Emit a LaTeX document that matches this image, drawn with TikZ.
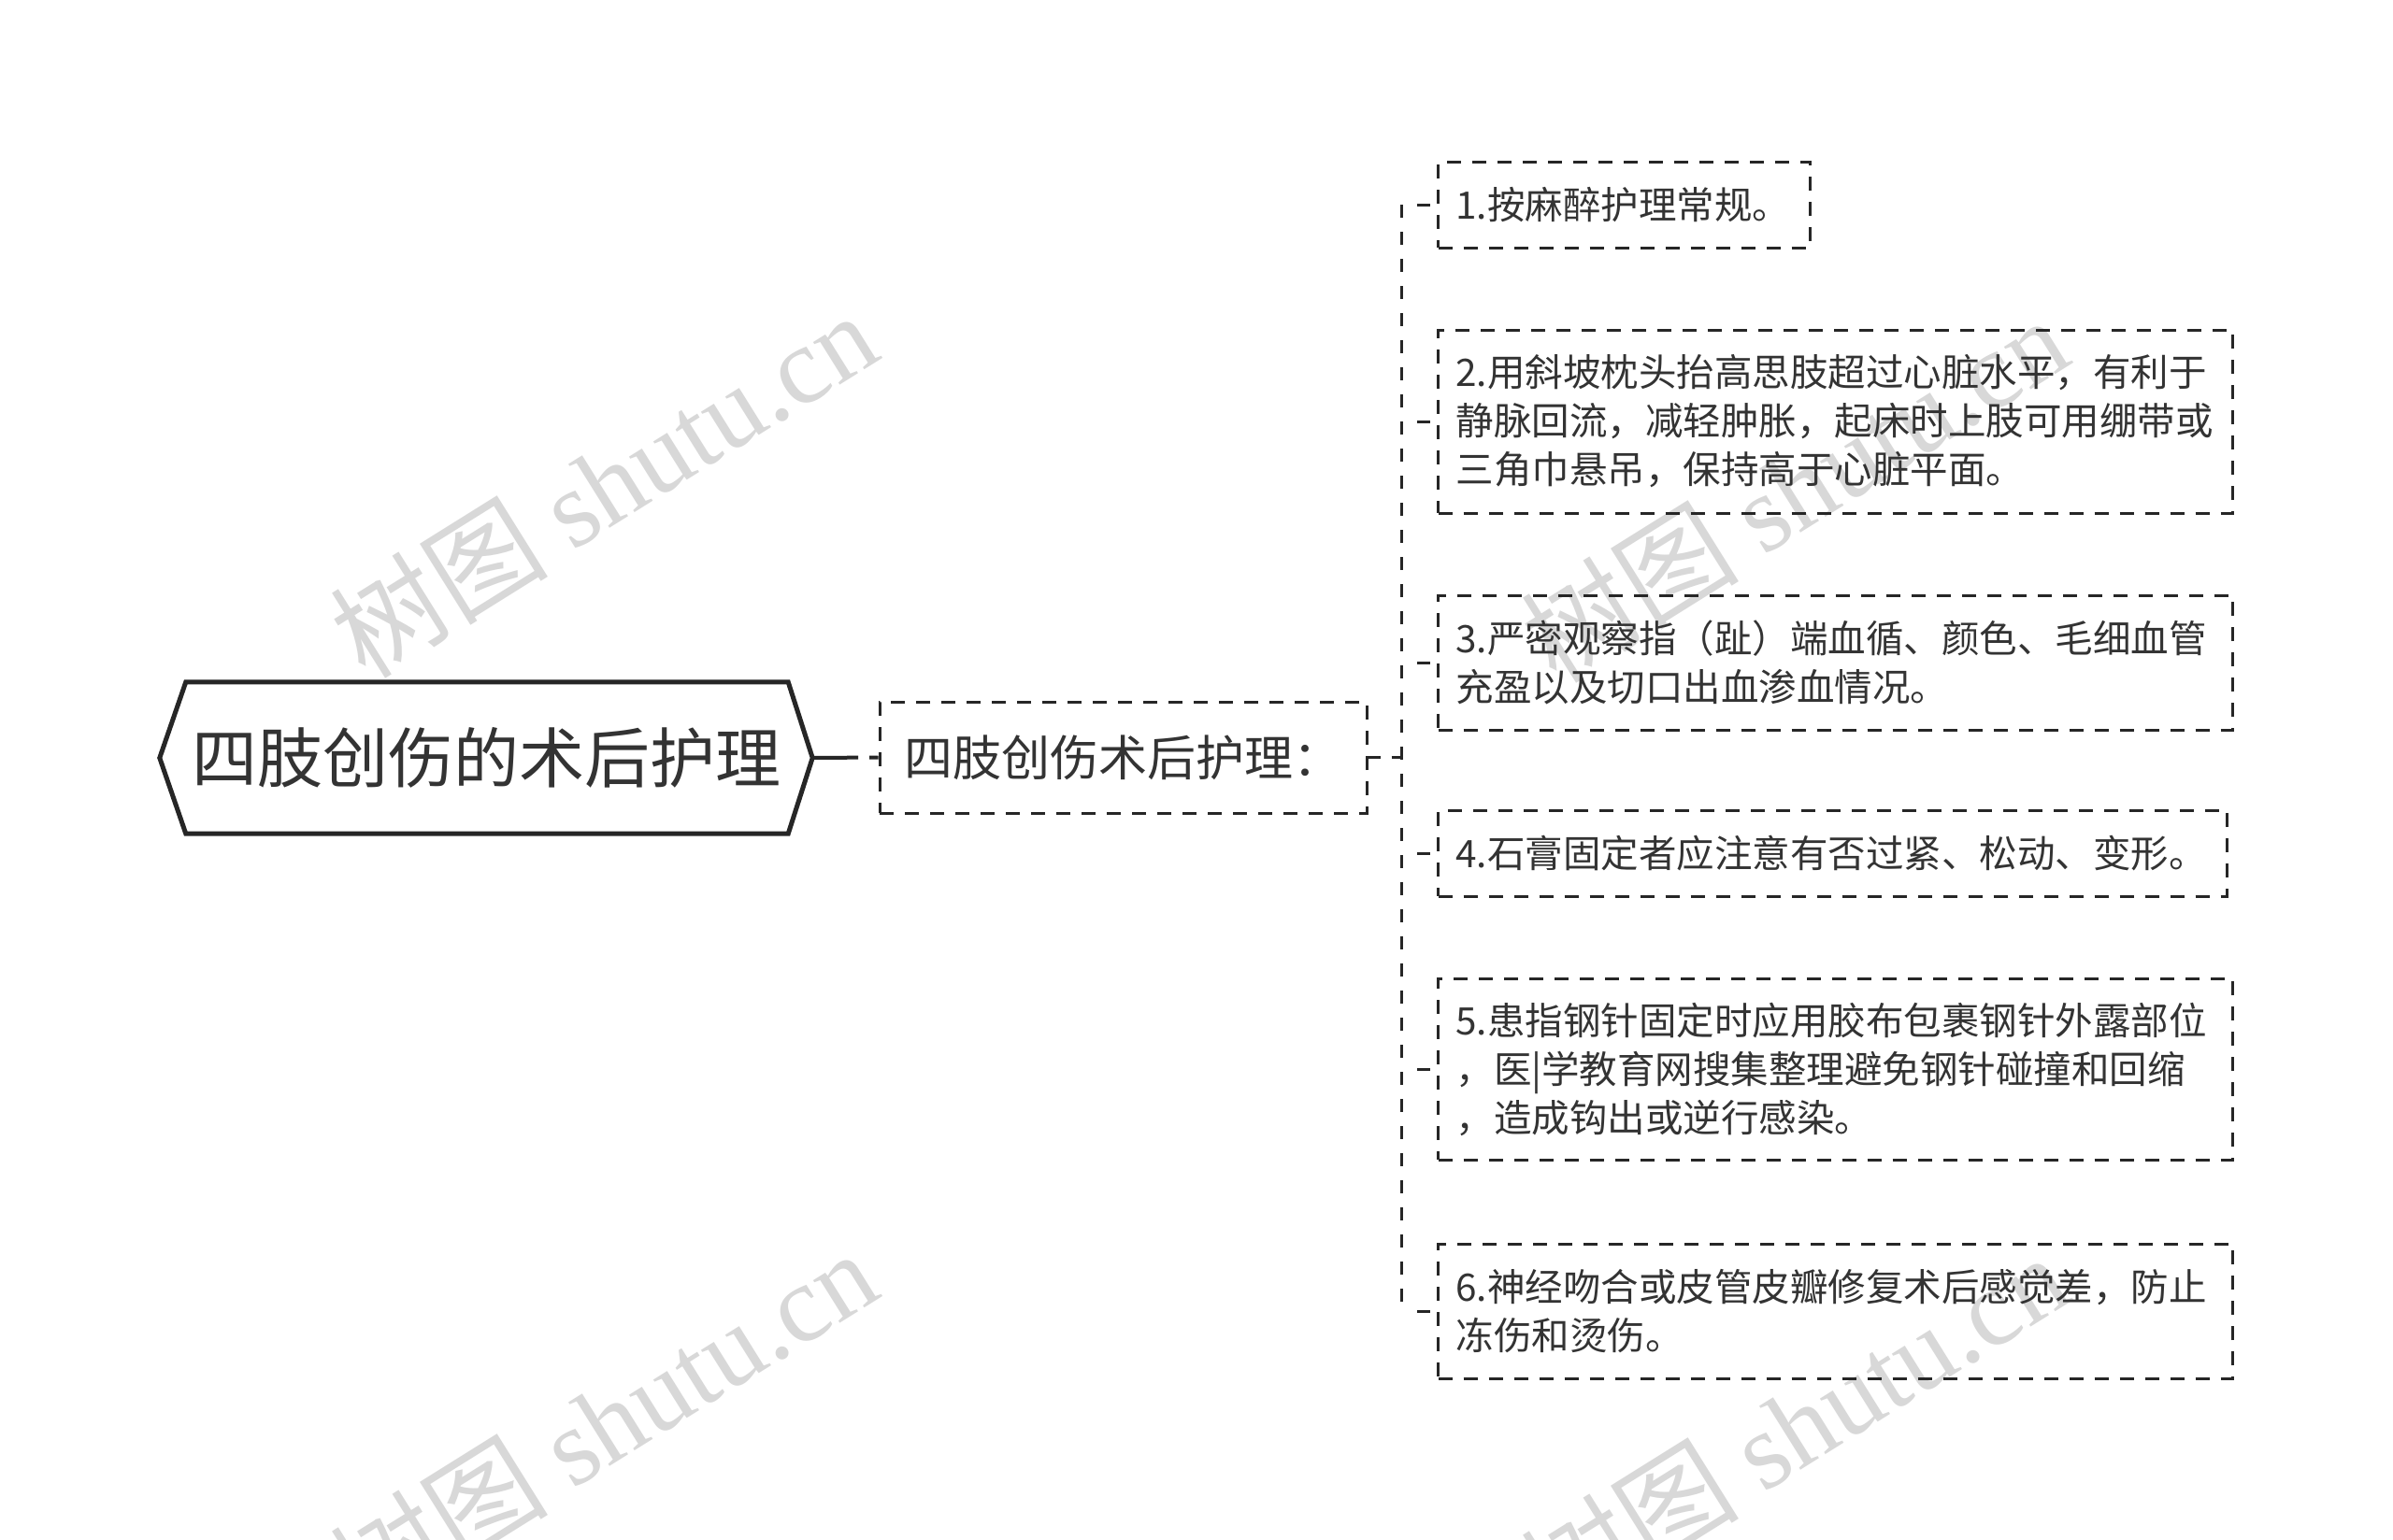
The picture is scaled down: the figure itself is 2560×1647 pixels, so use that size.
\documentclass[tikz,border=0pt]{standalone}
\usepackage{fontspec}
\setmainfont{Noto Sans CJK SC}
\newfontfamily\wmfont{Liberation Serif}
\usetikzlibrary{calc}
\definecolor{ink}{HTML}{333333}
\definecolor{edge}{HTML}{262626}
\definecolor{wm}{HTML}{D8D8D8}
\newcommand{\leaffont}{\fontsize{40.5}{52}\selectfont}
\begin{document}
\begin{tikzpicture}[x=1pt,y=-1pt,
  wmark/.style={text=wm, rotate=32, inner sep=0pt, font=\fontsize{117}{122}\selectfont},
  rootbox/.style={draw=none, minimum width=698pt, minimum height=162pt, inner sep=0pt, text=ink, font=\fontsize{70}{80}\selectfont},
  rootline/.style={draw=edge, line width=5pt, line join=miter},
  childbox/.style={draw=edge, line width=3pt, dash pattern=on 15pt off 12pt, minimum width=521pt, minimum height=119pt, inner sep=0pt, text=ink, font=\fontsize{52}{60}\selectfont},
  leafbox/.style={draw=edge, line width=3pt, dash pattern=on 15pt off 12pt, anchor=west, inner xsep=19pt, inner ysep=0pt, align=left, text=ink, font=\leaffont},
  rootlink/.style={draw=edge, line width=4pt, dash pattern=on 49pt off 12pt on 11pt off 200pt},
  childlink/.style={draw=edge, line width=3pt, dash pattern=on 13pt off 12pt},
  trunkline/.style={draw=edge, line width=3pt, dash pattern=on 14pt off 15pt},
  stubline/.style={draw=edge, line width=3pt, dash pattern=on 14pt off 17pt, dash phase=14pt}
]
\useasboundingbox (0,0) rectangle (2560,1647);
\fill[white] (0,0) rectangle (2560,1647);

% watermarks
\node[wmark] (w1) at (645,518) {树图 {\wmfont shutu.cn}};
\node[wmark] (w2) at (1919,523) {树图 {\wmfont shutu.cn}};
\node[wmark] (w3) at (645,1522) {树图 {\wmfont shutu.cn}};
\node[wmark] (w4) at (1919,1526) {树图 {\wmfont shutu.cn}};

% root
\node[rootbox] (root) at (520,811) {四肢创伤的术后护理};
\draw[rootline] (root.west) -- ([xshift=28pt]root.north west) -- ([xshift=-26pt]root.north east) -- (root.east) -- ([xshift=-26pt]root.south east) -- ([xshift=28pt]root.south west) -- cycle;

% child
\node[childbox] (child) at (1201.5,810.5) {四肢创伤术后护理：};

% leaves
\node[leafbox, text width=360pt, minimum height=92pt] (l1) at (1537,219) {1.按麻醉护理常规。};
\node[leafbox, text width=812pt, minimum height=196pt] (l2) at (1537,451) {2.用斜坡枕头抬高思肢超过心脏水平，有利于\\静脉回流，减轻肿胀，起床时上肢可用绷带或\\三角巾悬吊，保持高于心脏平面。};
\node[leafbox, text width=812pt, minimum height=144pt] (l3) at (1537,709) {3.严密观察指（趾）端血循、颜色、毛细血管\\充盈以及切口出血渗血情况。};
\node[leafbox, text width=806pt, minimum height=92pt] (l4) at (1537,913) {4.石膏固定者应注意有否过紧、松动、变形。};
\node[leafbox, text width=812pt, minimum height=194pt] (l5) at (1537,1144) {5.患指钢针固定时应用胶布包裹钢针外露部位\\，医|学教育网搜集整理避免钢针碰撞和回缩\\，造成钩出或逆行感染。};
\node[leafbox, text width=812pt, minimum height=144pt] (l6) at (1537,1403) {6.神经吻合或皮管皮瓣修复术后感觉差，防止\\冻伤和烫伤。};

% connectors
\draw[rootlink] (root.east) -- (child.west);
\coordinate (tk) at (1499,810.5);
\draw[childlink] (child.east) -- (tk);
\draw[trunkline] (tk |- l1.west) -- (tk |- l6.west);
\foreach \n in {l1,l2,l3,l4,l5,l6}{
  \draw[stubline] (tk |- \n.west) -- (\n.west);
}
\end{tikzpicture}
\end{document}
